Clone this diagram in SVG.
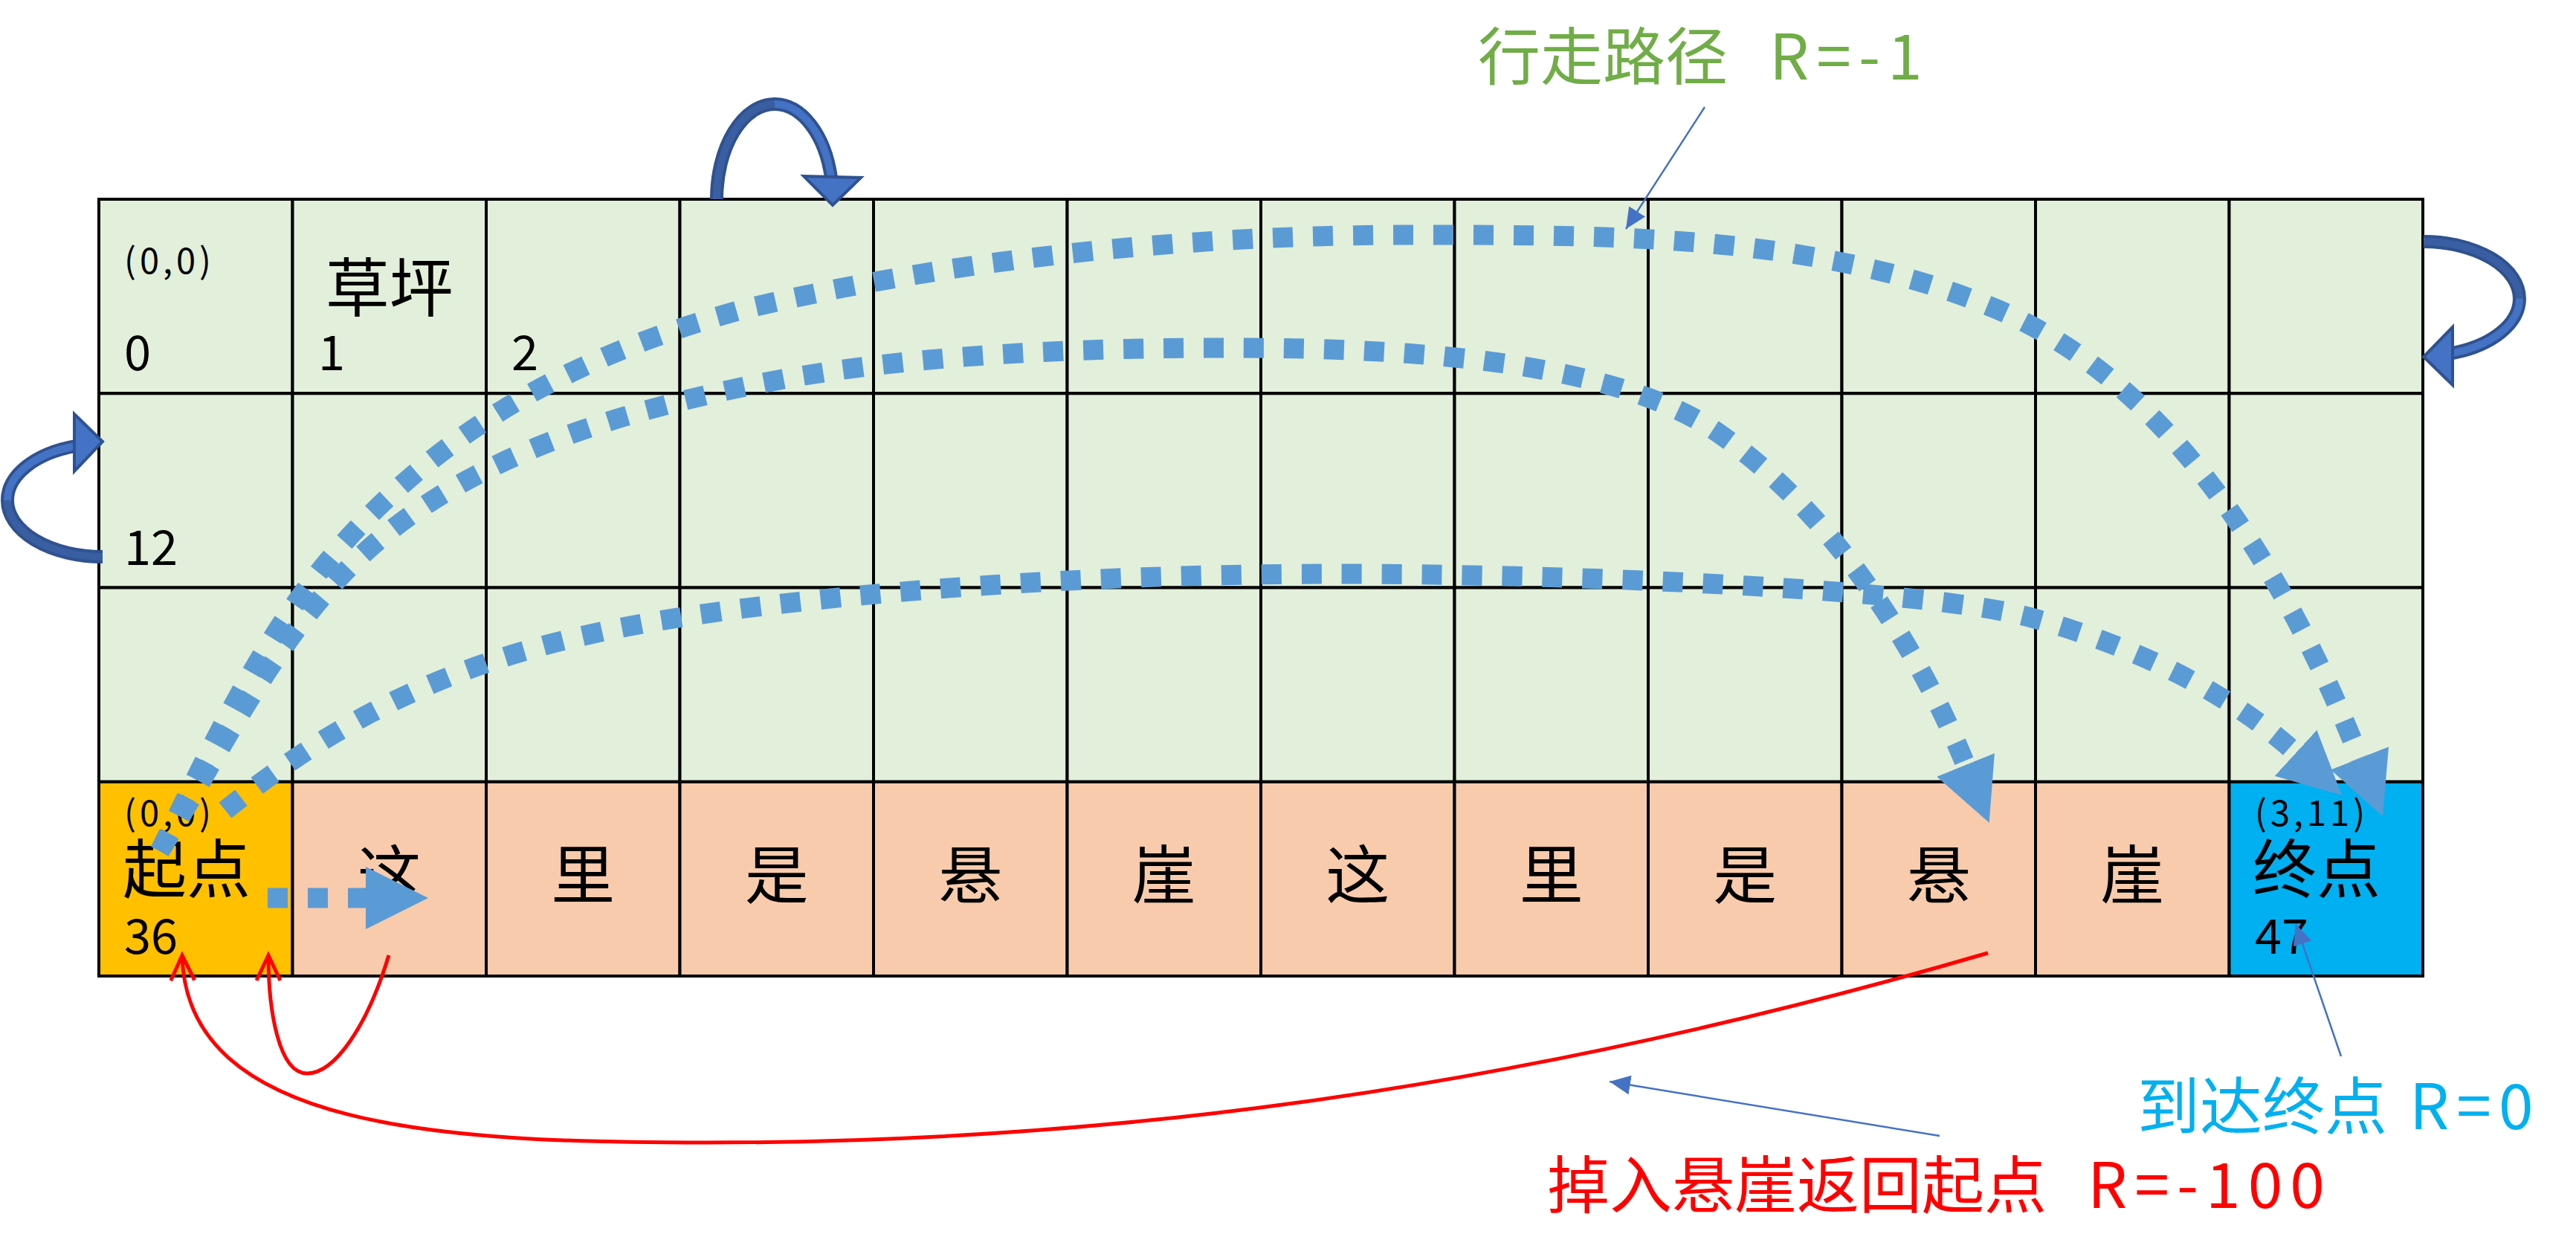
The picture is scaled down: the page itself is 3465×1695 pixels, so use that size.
<svg xmlns="http://www.w3.org/2000/svg" width="3465" height="1695" viewBox="0 0 3465 1695">
<style>
.cell{stroke:#000;stroke-width:4}
.g{fill:#E2EFDA}.c{fill:#F8CBAD}.s{fill:#FFC000}.e{fill:#00B0F0}
text{font-family:"Noto Sans CJK SC","Noto Sans",sans-serif;fill:#000}
.cjk{font-size:86px}
.mid{font-size:86px;text-anchor:middle}
.num{font-size:65px}
.coord{font-size:47px;letter-spacing:5px}
.lbl{font-size:84px}
.lat{letter-spacing:10px}
.path{fill:none;stroke:#5B9BD5;stroke-width:27;stroke-dasharray:27 27;marker-end:url(#bigArrow)}
.red{fill:none;stroke:#FF0000;stroke-width:5;marker-end:url(#redArrow)}
.lead{fill:none;stroke:#4472C4;stroke-width:2.5;marker-end:url(#smallArrow)}
.loopOut{fill:none;stroke:#2F528F;stroke-width:18}
.loopIn{fill:none;stroke:#4472C4;stroke-width:10}
.loopDark{fill:none;stroke:#3A5EA2;stroke-width:10}
.loopHead{fill:#4472C4;stroke:#2F528F;stroke-width:4;stroke-linejoin:miter}
</style>
<defs>
<marker id="bigArrow" viewBox="0 0 84 84" refX="0" refY="42" markerWidth="84" markerHeight="84" markerUnits="userSpaceOnUse" orient="auto"><path d="M0,0 L84,42 L0,84 Z" fill="#5B9BD5"/></marker>
<marker id="smallArrow" viewBox="0 0 28 26" refX="28" refY="13" markerWidth="28" markerHeight="26" markerUnits="userSpaceOnUse" orient="auto"><path d="M0,0 L28,13 L0,26 Z" fill="#4472C4"/></marker>
<marker id="redArrow" viewBox="-40 -20 44 40" refX="0" refY="0" markerWidth="44" markerHeight="40" markerUnits="userSpaceOnUse" orient="auto" overflow="visible"><path d="M-34,-16 L0,0 L-34,16" fill="none" stroke="#FF0000" stroke-width="5"/></marker>
</defs>
<rect width="3465" height="1695" fill="#FFFFFF"/>
<g id="grid">
<g id="cell-0"><rect class="cell g" x="133" y="268" width="260.5" height="261.25"/><text class="coord" x="167" y="368">(0,0)</text><text class="num" x="167" y="498">0</text></g>
<g id="cell-1"><rect class="cell g" x="393.5" y="268" width="260.5" height="261.25"/><text class="mid" x="523.75" y="419">草坪</text><text class="num" x="428" y="498">1</text></g>
<g id="cell-2"><rect class="cell g" x="654" y="268" width="260.5" height="261.25"/><text class="num" x="688" y="498">2</text></g>
<g id="cell-3"><rect class="cell g" x="914.5" y="268" width="260.5" height="261.25"/></g>
<g id="cell-4"><rect class="cell g" x="1175" y="268" width="260.5" height="261.25"/></g>
<g id="cell-5"><rect class="cell g" x="1435.5" y="268" width="260.5" height="261.25"/></g>
<g id="cell-6"><rect class="cell g" x="1696" y="268" width="260.5" height="261.25"/></g>
<g id="cell-7"><rect class="cell g" x="1956.5" y="268" width="260.5" height="261.25"/></g>
<g id="cell-8"><rect class="cell g" x="2217" y="268" width="260.5" height="261.25"/></g>
<g id="cell-9"><rect class="cell g" x="2477.5" y="268" width="260.5" height="261.25"/></g>
<g id="cell-10"><rect class="cell g" x="2738" y="268" width="260.5" height="261.25"/></g>
<g id="cell-11"><rect class="cell g" x="2998.5" y="268" width="260.5" height="261.25"/></g>
<g id="cell-12"><rect class="cell g" x="133" y="529.25" width="260.5" height="261.25"/><text class="num" x="167" y="760">12</text></g>
<g id="cell-13"><rect class="cell g" x="393.5" y="529.25" width="260.5" height="261.25"/></g>
<g id="cell-14"><rect class="cell g" x="654" y="529.25" width="260.5" height="261.25"/></g>
<g id="cell-15"><rect class="cell g" x="914.5" y="529.25" width="260.5" height="261.25"/></g>
<g id="cell-16"><rect class="cell g" x="1175" y="529.25" width="260.5" height="261.25"/></g>
<g id="cell-17"><rect class="cell g" x="1435.5" y="529.25" width="260.5" height="261.25"/></g>
<g id="cell-18"><rect class="cell g" x="1696" y="529.25" width="260.5" height="261.25"/></g>
<g id="cell-19"><rect class="cell g" x="1956.5" y="529.25" width="260.5" height="261.25"/></g>
<g id="cell-20"><rect class="cell g" x="2217" y="529.25" width="260.5" height="261.25"/></g>
<g id="cell-21"><rect class="cell g" x="2477.5" y="529.25" width="260.5" height="261.25"/></g>
<g id="cell-22"><rect class="cell g" x="2738" y="529.25" width="260.5" height="261.25"/></g>
<g id="cell-23"><rect class="cell g" x="2998.5" y="529.25" width="260.5" height="261.25"/></g>
<g id="cell-24"><rect class="cell g" x="133" y="790.5" width="260.5" height="261.25"/></g>
<g id="cell-25"><rect class="cell g" x="393.5" y="790.5" width="260.5" height="261.25"/></g>
<g id="cell-26"><rect class="cell g" x="654" y="790.5" width="260.5" height="261.25"/></g>
<g id="cell-27"><rect class="cell g" x="914.5" y="790.5" width="260.5" height="261.25"/></g>
<g id="cell-28"><rect class="cell g" x="1175" y="790.5" width="260.5" height="261.25"/></g>
<g id="cell-29"><rect class="cell g" x="1435.5" y="790.5" width="260.5" height="261.25"/></g>
<g id="cell-30"><rect class="cell g" x="1696" y="790.5" width="260.5" height="261.25"/></g>
<g id="cell-31"><rect class="cell g" x="1956.5" y="790.5" width="260.5" height="261.25"/></g>
<g id="cell-32"><rect class="cell g" x="2217" y="790.5" width="260.5" height="261.25"/></g>
<g id="cell-33"><rect class="cell g" x="2477.5" y="790.5" width="260.5" height="261.25"/></g>
<g id="cell-34"><rect class="cell g" x="2738" y="790.5" width="260.5" height="261.25"/></g>
<g id="cell-35"><rect class="cell g" x="2998.5" y="790.5" width="260.5" height="261.25"/></g>
<g id="cell-36"><rect class="cell s" x="133" y="1051.75" width="260.5" height="261.25"/><text class="coord" x="167" y="1111">(0,0)</text><text class="cjk" x="165" y="1201">起点</text><text class="num" x="167" y="1283">36</text></g>
<g id="cell-37"><rect class="cell c" x="393.5" y="1051.75" width="260.5" height="261.25"/><text class="mid" x="523.75" y="1209">这</text></g>
<g id="cell-38"><rect class="cell c" x="654" y="1051.75" width="260.5" height="261.25"/><text class="mid" x="784.25" y="1209">里</text></g>
<g id="cell-39"><rect class="cell c" x="914.5" y="1051.75" width="260.5" height="261.25"/><text class="mid" x="1044.75" y="1209">是</text></g>
<g id="cell-40"><rect class="cell c" x="1175" y="1051.75" width="260.5" height="261.25"/><text class="mid" x="1305.25" y="1209">悬</text></g>
<g id="cell-41"><rect class="cell c" x="1435.5" y="1051.75" width="260.5" height="261.25"/><text class="mid" x="1565.75" y="1209">崖</text></g>
<g id="cell-42"><rect class="cell c" x="1696" y="1051.75" width="260.5" height="261.25"/><text class="mid" x="1826.25" y="1209">这</text></g>
<g id="cell-43"><rect class="cell c" x="1956.5" y="1051.75" width="260.5" height="261.25"/><text class="mid" x="2086.75" y="1209">里</text></g>
<g id="cell-44"><rect class="cell c" x="2217" y="1051.75" width="260.5" height="261.25"/><text class="mid" x="2347.25" y="1209">是</text></g>
<g id="cell-45"><rect class="cell c" x="2477.5" y="1051.75" width="260.5" height="261.25"/><text class="mid" x="2607.75" y="1209">悬</text></g>
<g id="cell-46"><rect class="cell c" x="2738" y="1051.75" width="260.5" height="261.25"/><text class="mid" x="2868.25" y="1209">崖</text></g>
<g id="cell-47"><rect class="cell e" x="2998.5" y="1051.75" width="260.5" height="261.25"/><text class="coord" x="3033" y="1111">(3,11)</text><text class="cjk" x="3030" y="1201">终点</text><text class="num" x="3033" y="1283">47</text></g>
</g>
<g id="label-walk"><text class="lbl" style="fill:#70AD47" x="1988" y="107">行走路径<tspan class="lat" x="2380">R=-1</tspan></text></g>
<g id="label-goal"><text class="lbl" style="fill:#00B0F0" x="2875" y="1519">到达终点<tspan class="lat" x="3241">R=0</tspan></text></g>
<g id="label-cliff"><text class="lbl" style="fill:#FF0000" x="2081" y="1625">掉入悬崖返回起点<tspan class="lat" x="2808">R=-100</tspan></text></g>
<g id="connectors">
<path class="path" d="M215,1145 C282,1011 348.5,863 446,749 C595.5,574 779,476 1000,416 C1291,347 1600,316 1900,316 C2170,316 2447,315 2686,416 C2925,517 3078,778 3174,1020"/>
<path class="path" d="M215,1145 C296,1013 365,867 475,758 C617,618 821,557 1017,517 C1213,477 1450,468 1650,468 C1870,468 2164,480 2312,583 C2460,686 2576,862 2644,1029"/>
<path class="path" d="M303,1090 C531,906 731,851 1028,815 C1276,785 1550,772 1800,772 C2100,772 2583,791 2729,830 C2855,864 2992,925 3088,1013"/>
<path class="path" d="M360,1208 L492,1208"/>
<path class="red" d="M2674,1282 C2002,1478 1450,1537 950,1537 C600,1537 250,1520 245,1285"/>
<path class="red" d="M523,1285 C494,1381 450,1444 413,1444 C375,1444 361,1360 361,1285"/>
<path class="lead" d="M2293,144 L2187,308"/>
<path class="lead" d="M3149,1421 L3088,1243"/>
<path class="lead" d="M2609,1528 L2165,1455"/>
<g id="loop-top">
<path class="loopOut" d="M1042,140 A78,128 0 0 1 1118,239"/>
<path class="loopIn" d="M1042,140 A78,128 0 0 1 1118,239"/>
<path class="loopOut" d="M964,268 A78,128 0 0 1 1042,140"/>
<path class="loopDark" d="M964,268 A78,128 0 0 1 1042,140"/>
<polygon class="loopHead" points="1081,237 1158,239 1120,276"/>
</g>
<g id="loop-right">
<path class="loopOut" d="M3389,402 A129,77 0 0 1 3299,475"/>
<path class="loopIn" d="M3389,402 A129,77 0 0 1 3299,475"/>
<path class="loopOut" d="M3260,325 A129,77 0 0 1 3389,402"/>
<path class="loopDark" d="M3260,325 A129,77 0 0 1 3389,402"/>
<polygon class="loopHead" points="3299,440 3260,480 3299,518"/>
</g>
<g id="loop-left">
<path class="loopOut" d="M10,673 A128,76 0 0 1 102,600"/>
<path class="loopIn" d="M10,673 A128,76 0 0 1 102,600"/>
<path class="loopOut" d="M138,749 A128,76 0 0 1 10,673"/>
<path class="loopDark" d="M138,749 A128,76 0 0 1 10,673"/>
<polygon class="loopHead" points="100,557 138,594 100,634"/>
</g>
</g>
</svg>
